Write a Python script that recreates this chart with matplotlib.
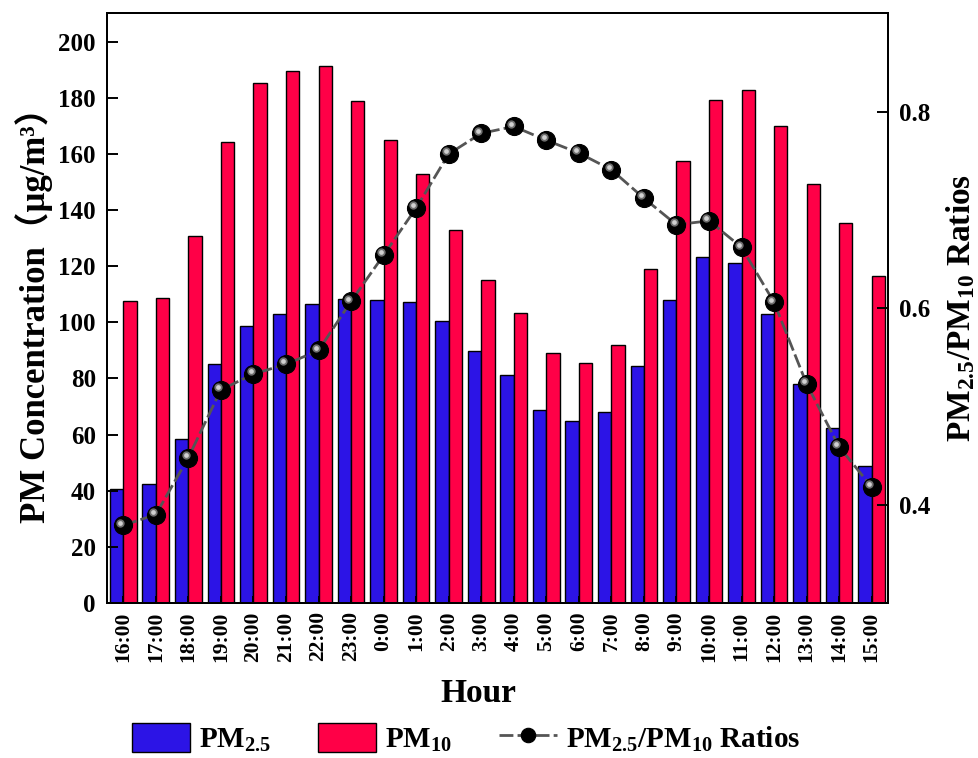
import matplotlib
matplotlib.use("Agg")
import matplotlib.pyplot as plt
import numpy as np
from matplotlib.transforms import ScaledTranslation

plt.rcParams['font.family'] = ['Liberation Serif', 'Noto Sans CJK SC', 'DejaVu Sans']
plt.rcParams['font.weight'] = 'bold'
plt.rcParams['mathtext.fontset'] = 'custom'
plt.rcParams['mathtext.rm'] = 'Liberation Serif:bold'
plt.rcParams['mathtext.it'] = 'Liberation Serif:bold'
plt.rcParams['mathtext.bf'] = 'Liberation Serif:bold'

hours = ["16:00", "17:00", "18:00", "19:00", "20:00", "21:00", "22:00", "23:00",
         "0:00", "1:00", "2:00", "3:00", "4:00", "5:00", "6:00", "7:00",
         "8:00", "9:00", "10:00", "11:00", "12:00", "13:00", "14:00", "15:00"]

pm25 = [40.6, 42.5, 58.5, 85.0, 98.7, 102.8, 106.5, 108.2,
        108.0, 107.3, 100.6, 89.8, 81.2, 68.6, 64.8, 68.0,
        84.5, 107.8, 123.4, 121.0, 103.0, 78.0, 62.3, 48.9]

pm10 = [107.7, 108.8, 130.6, 164.3, 185.2, 189.4, 191.2, 178.8,
        165.1, 152.8, 132.9, 115.1, 103.2, 88.9, 85.5, 91.9,
        118.9, 157.6, 179.2, 182.6, 169.8, 149.2, 135.5, 116.5]

ratio = [0.379, 0.390, 0.448, 0.517, 0.533, 0.543, 0.557, 0.607,
         0.654, 0.702, 0.757, 0.778, 0.785, 0.771, 0.758, 0.741,
         0.712, 0.685, 0.689, 0.662, 0.606, 0.523, 0.459, 0.418]

blue = '#2C14E6'
red = '#FF0047'

fig = plt.figure(figsize=(9.79, 7.58), dpi=100)
ax = fig.add_axes([0.1093, 0.2045, 0.7977, 0.7777])
x = np.arange(len(hours))
w = 0.41
b1 = ax.bar(x - w / 2, pm25, w, color=blue, edgecolor='black', linewidth=1.0,
            label=r'PM$_{\mathbf{2.5}}$')
b2 = ax.bar(x + w / 2, pm10, w, color=red, edgecolor='black', linewidth=1.0,
            label=r'PM$_{\mathbf{10}}$')

ax.set_xlim(-0.5, len(hours) - 0.5)
ax.set_ylim(0, 210)
ax.set_yticks(np.arange(0, 201, 20))
ax.set_xticks(x)
ax.set_xticklabels(hours, rotation=90, fontsize=15.5, fontweight='bold')
ax.tick_params(axis='y', direction='in', length=8, width=1.4, labelsize=18, pad=8)
ax.tick_params(axis='x', direction='in', length=5, width=1.4, pad=6)
for s in ax.spines.values():
    s.set_linewidth(1.4)

ax.set_xlabel('Hour', fontsize=24, fontweight='bold')
ax.xaxis.set_label_coords(0.476, -0.153)
ax.xaxis.label.set_va('center')
ax.set_ylabel('PM Concentration（μg/m³）', fontsize=25, fontweight='bold')
ax.yaxis.set_label_coords(-0.094, 0.503)
ax.yaxis.label.set_va('center')

ax2 = ax.twinx()
ax2.set_ylim(0.3, 0.9)
ax2.set_yticks([0.4, 0.6, 0.8])
ax2.set_yticklabels(['0.4', '0.6', '0.8'])
ax2.tick_params(axis='y', direction='in', length=8, width=1.4, labelsize=18, pad=8)
for s in ax2.spines.values():
    s.set_linewidth(1.4)

ln, = ax2.plot(x, ratio, color='#555555', linewidth=2.0, linestyle=(0, (5, 1.5)),
               marker='o', markersize=13, markerfacecolor='black',
               markeredgecolor='black', markeredgewidth=0.8,
               label=r'PM$_{\mathbf{2.5}}$/PM$_{\mathbf{10}}$ Ratios')
# sphere shading on the markers
shift = ax2.transData + ScaledTranslation(-2.0 / 72, 2.0 / 72, fig.dpi_scale_trans)
ax2.plot(x, ratio, linestyle='none', marker='o', markersize=6,
         markerfacecolor='#6e6e6e', markeredgewidth=0, transform=shift)
ax2.plot(x, ratio, linestyle='none', marker='o', markersize=3.4,
         markerfacecolor='#d0d0d0', markeredgewidth=0, transform=shift)

ax2.set_ylabel(r'PM$_{\mathbf{2.5}}$/PM$_{\mathbf{10}}$ Ratios', fontsize=24, fontweight='bold')
ax2.yaxis.set_label_coords(1.093, 0.50)
ax2.yaxis.label.set_va('center')

fig.legend(handles=[b1, b2, ln], loc='center', bbox_to_anchor=(0.476, 0.026),
           ncol=3, frameon=False, fontsize=21, handlelength=2.0, handleheight=1.15,
           handletextpad=0.3, columnspacing=1.6, markerscale=0.8)

fig.savefig('out.png', dpi=100)
